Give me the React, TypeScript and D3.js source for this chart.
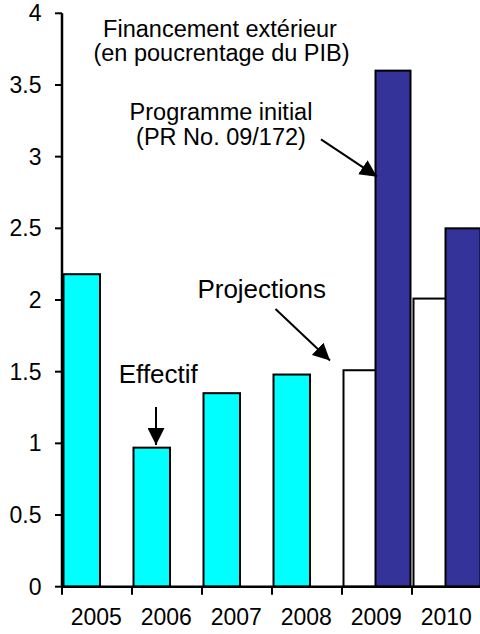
import React from "react";
import * as d3 from "d3";

const years = ["2005", "2006", "2007", "2008", "2009", "2010"];
const effectif: (number | null)[] = [2.18, 0.97, 1.35, 1.48, null, null];
const projections: (number | null)[] = [null, null, null, null, 1.51, 2.01];
const programme: (number | null)[] = [null, null, null, null, 3.6, 2.5];
const yTicks = [0, 0.5, 1, 1.5, 2, 2.5, 3, 3.5, 4];
const yTickLabels = ["0", "0.5", "1", "1.5", "2", "2.5", "3", "3.5", "4"];

const W = 480;
const H = 634;
const FONT = "'Liberation Sans', Arial, sans-serif";

const y = d3.scaleLinear().domain([0, 4]).range([586.7, 13.3]);
const x = d3.scaleBand<string>().domain(years).range([62, 482]).paddingInner(0).paddingOuter(0);
const sub = d3.scaleOrdinal<string, number>().domain(["s1", "s2"]).range([1.5, 33.5]);
const barW = { s1: 36.5, s2: 35 };

function T({ x: tx, y: ty, anchor = "middle", size = 23.5, children }: any) {
  return (
    <text x={tx} y={ty} textAnchor={anchor} fontFamily={FONT} fontSize={size} fill="#000">
      {children}
    </text>
  );
}

export default function App() {
  const x0 = x.range()[0];
  const yBase = y(0);
  const s1 = years.map((yr, i) => ({
    yr,
    v: effectif[i] ?? projections[i],
    fill: effectif[i] != null ? "#00FFFF" : "#FFFFFF",
  }));
  const s2 = years.map((yr, i) => ({ yr, v: programme[i] }));
  return (
    <svg width={W} height={H} style={{ position: "absolute", left: 0, top: 0, background: "#fff" }}>
      <defs>
        <marker id="ah" viewBox="0 0 10 10" refX="10" refY="5" markerWidth="17" markerHeight="17"
          markerUnits="userSpaceOnUse" orient="auto">
          <path d="M0,0 L10,5 L0,10 z" fill="#000" />
        </marker>
      </defs>
      <rect x={0} y={0} width={W} height={H} fill="#fff" />
      {s1.filter((d) => d.v != null).map((d) => (
        <rect key={"a" + d.yr} x={(x(d.yr) as number) + sub("s1")} y={y(d.v as number)}
          width={barW.s1} height={yBase - y(d.v as number)} fill={d.fill} stroke="#000" strokeWidth={2} />
      ))}
      {s2.filter((d) => d.v != null).map((d) => (
        <rect key={"b" + d.yr} x={(x(d.yr) as number) + sub("s2")} y={y(d.v as number)}
          width={barW.s2} height={yBase - y(d.v as number)} fill="#333399" stroke="#000" strokeWidth={2} />
      ))}
      {/* y axis */}
      <line x1={x0} x2={x0} y1={y(4)} y2={yBase} stroke="#000" strokeWidth={2.5} />
      {yTicks.map((t, i) => (
        <g key={"yt" + t}>
          <line x1={x0 - 7} x2={x0} y1={y(t)} y2={y(t)} stroke="#000" strokeWidth={2} />
          <T x={41.5} y={y(t) + 8} anchor="end" size={23}>{yTickLabels[i]}</T>
        </g>
      ))}
      {/* x axis */}
      <line x1={x0} x2={W} y1={yBase} y2={yBase} stroke="#000" strokeWidth={2.5} />
      {years.map((yr) => (
        <g key={"xt" + yr}>
          <line x1={x(yr) as number} x2={x(yr) as number} y1={yBase} y2={yBase + 8} stroke="#000" strokeWidth={2} />
          <T x={(x(yr) as number) + x.bandwidth() / 2 - 0.7} y={625} size={23}>{yr}</T>
        </g>
      ))}
      {/* annotations */}
      <T x={220} y={36.5}>Financement extérieur</T>
      <T x={221.5} y={60.5}>(en poucrentage du PIB)</T>
      <T x={221} y={120}>Programme initial</T>
      <T x={221} y={145}>(PR No. 09/172)</T>
      <T x={261.7} y={298} size={26}>Projections</T>
      <T x={158.3} y={383.3} size={26}>Effectif</T>
      <line x1={156} y1={407} x2={156} y2={445} stroke="#000" strokeWidth={2} markerEnd="url(#ah)" />
      <line x1={275.5} y1={309} x2={330} y2={360.5} stroke="#000" strokeWidth={2} markerEnd="url(#ah)" />
      <line x1={321} y1={139.3} x2={377} y2={176.7} stroke="#000" strokeWidth={2} markerEnd="url(#ah)" />
    </svg>
  );
}
